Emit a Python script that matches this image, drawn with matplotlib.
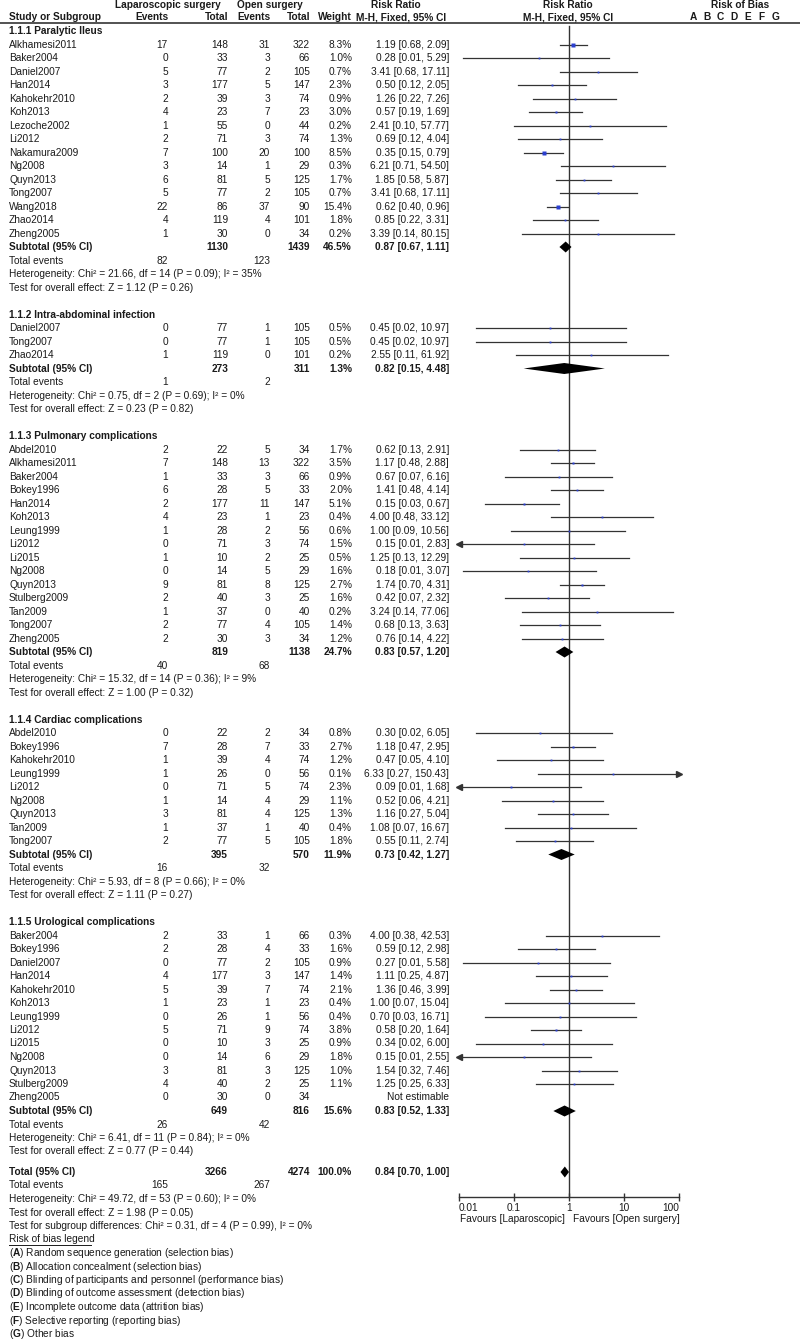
import matplotlib
matplotlib.use("Agg")

import matplotlib.pyplot as plt
from matplotlib.ticker import NullLocator

plt.rcParams['font.family'] = ['Liberation Sans', 'DejaVu Sans']
plt.rcParams['mathtext.fontset'] = 'custom'
plt.rcParams['mathtext.rm'] = 'Liberation Sans'
plt.rcParams['mathtext.bf'] = 'Liberation Sans:bold'

# -------------------------------------------------------
# DATA
# -------------------------------------------------------
groups = ["1.1.1 Paralytic Ileus", "1.1.2 Intra-abdominal infection",
          "1.1.3 Pulmonary complications", "1.1.4 Cardiac complications",
          "1.1.5 Urological complications"]
group_size = [15, 3, 15, 9, 13]

study = [
    "Alkhamesi2011", "Baker2004", "Daniel2007", "Han2014", "Kahokehr2010", "Koh2013",
    "Lezoche2002", "Li2012", "Nakamura2009", "Ng2008", "Quyn2013", "Tong2007",
    "Wang2018", "Zhao2014", "Zheng2005",
    "Daniel2007", "Tong2007", "Zhao2014",
    "Abdel2010", "Alkhamesi2011", "Baker2004", "Bokey1996", "Han2014", "Koh2013",
    "Leung1999", "Li2012", "Li2015", "Ng2008", "Quyn2013", "Stulberg2009", "Tan2009",
    "Tong2007", "Zheng2005",
    "Abdel2010", "Bokey1996", "Kahokehr2010", "Leung1999", "Li2012", "Ng2008",
    "Quyn2013", "Tan2009", "Tong2007",
    "Baker2004", "Bokey1996", "Daniel2007", "Han2014", "Kahokehr2010", "Koh2013",
    "Leung1999", "Li2012", "Li2015", "Ng2008", "Quyn2013", "Stulberg2009", "Zheng2005",
]
lap_events = [17, 0, 5, 3, 2, 4, 1, 2, 7, 3, 6, 5, 22, 4, 1,
              0, 0, 1,
              2, 7, 1, 6, 2, 4, 1, 0, 1, 0, 9, 2, 1, 2, 2,
              0, 7, 1, 1, 0, 1, 3, 1, 2,
              2, 2, 0, 4, 5, 1, 0, 5, 0, 0, 3, 4, 0]
lap_total = [148, 33, 77, 177, 39, 23, 55, 71, 100, 14, 81, 77, 86, 119, 30,
             77, 77, 119,
             22, 148, 33, 28, 177, 23, 28, 71, 10, 14, 81, 40, 37, 77, 30,
             22, 28, 39, 26, 71, 14, 81, 37, 77,
             33, 28, 77, 177, 39, 23, 26, 71, 10, 14, 81, 40, 30]
open_events = [31, 3, 2, 5, 3, 7, 0, 3, 20, 1, 5, 2, 37, 4, 0,
               1, 1, 0,
               5, 13, 3, 5, 11, 1, 2, 3, 2, 5, 8, 3, 0, 4, 3,
               2, 7, 4, 0, 5, 4, 4, 1, 5,
               1, 4, 2, 3, 7, 1, 1, 9, 3, 6, 3, 2, 0]
open_total = [322, 66, 105, 147, 74, 23, 44, 74, 100, 29, 125, 105, 90, 101, 34,
              105, 105, 101,
              34, 322, 66, 33, 147, 23, 56, 74, 25, 29, 125, 25, 40, 105, 34,
              34, 33, 74, 56, 74, 29, 125, 40, 105,
              66, 33, 105, 147, 74, 23, 56, 74, 25, 29, 125, 25, 34]
weight = [8.3, 1.0, 0.7, 2.3, 0.9, 3.0, 0.2, 1.3, 8.5, 0.3, 1.7, 0.7, 15.4, 1.8, 0.2,
          0.5, 0.5, 0.2,
          1.7, 3.5, 0.9, 2.0, 5.1, 0.4, 0.6, 1.5, 0.5, 1.6, 2.7, 1.6, 0.2, 1.4, 1.2,
          0.8, 2.7, 1.2, 0.1, 2.3, 1.1, 1.3, 0.4, 1.8,
          0.3, 1.6, 0.9, 1.4, 2.1, 0.4, 0.4, 3.8, 0.9, 1.8, 1.0, 1.1, None]
rr = [1.19, 0.28, 3.41, 0.50, 1.26, 0.57, 2.41, 0.69, 0.35, 6.21, 1.85, 3.41, 0.62, 0.85, 3.39,
      0.45, 0.45, 2.55,
      0.62, 1.17, 0.67, 1.41, 0.15, 4.00, 1.00, 0.15, 1.25, 0.18, 1.74, 0.42, 3.24, 0.68, 0.76,
      0.30, 1.18, 0.47, 6.33, 0.09, 0.52, 1.16, 1.08, 0.55,
      4.00, 0.59, 0.27, 1.11, 1.36, 1.00, 0.70, 0.58, 0.34, 0.15, 1.54, 1.25, None]
ci_low = [0.68, 0.012, 0.68, 0.12, 0.22, 0.19, 0.10, 0.12, 0.15, 0.71, 0.58, 0.68, 0.40, 0.22, 0.14,
          0.02, 0.02, 0.11,
          0.13, 0.48, 0.07, 0.48, 0.03, 0.48, 0.09, 0.008, 0.13, 0.012, 0.70, 0.07, 0.14, 0.13, 0.14,
          0.02, 0.47, 0.05, 0.27, 0.008, 0.06, 0.27, 0.07, 0.11,
          0.38, 0.12, 0.012, 0.25, 0.46, 0.07, 0.03, 0.20, 0.02, 0.008, 0.32, 0.25, None]
ci_high = [2.09, 5.29, 17.11, 2.05, 7.26, 1.69, 57.77, 4.04, 0.79, 54.50, 5.87, 17.11, 0.96, 3.31, 80.15,
           10.97, 10.97, 61.92,
           2.91, 2.88, 6.16, 4.14, 0.67, 33.12, 10.56, 2.83, 12.29, 3.07, 4.31, 2.32, 77.06, 3.63, 4.22,
           6.05, 2.95, 4.10, 150.43, 1.68, 4.21, 5.04, 16.67, 2.74,
           42.53, 2.98, 5.58, 4.87, 3.99, 15.04, 16.71, 1.64, 6.00, 2.55, 7.46, 6.33, None]

sub_lap_total = [1130, 273, 819, 395, 649]
sub_open_total = [1439, 311, 1138, 570, 816]
sub_weight = [46.5, 1.3, 24.7, 11.9, 15.6]
sub_rr = [0.87, 0.82, 0.83, 0.73, 0.83]
sub_low = [0.67, 0.15, 0.57, 0.42, 0.52]
sub_high = [1.11, 4.48, 1.20, 1.27, 1.33]
sub_lap_events = [82, 1, 40, 16, 26]
sub_open_events = [123, 2, 68, 32, 42]
sub_het = ["Chi² = 21.66, df = 14 (P = 0.09); I² = 35%",
           "Chi² = 0.75, df = 2 (P = 0.69); I² = 0%",
           "Chi² = 15.32, df = 14 (P = 0.36); I² = 9%",
           "Chi² = 5.93, df = 8 (P = 0.66); I² = 0%",
           "Chi² = 6.41, df = 11 (P = 0.84); I² = 0%"]
sub_z = ["Z = 1.12 (P = 0.26)", "Z = 0.23 (P = 0.82)", "Z = 1.00 (P = 0.32)",
         "Z = 1.11 (P = 0.27)", "Z = 0.77 (P = 0.44)"]

tot_lap_total, tot_open_total, tot_weight = 3266, 4274, 100.0
tot_rr, tot_low, tot_high = 0.84, 0.70, 1.00
tot_lap_events, tot_open_events = 165, 267
tot_het = "Chi² = 49.72, df = 53 (P = 0.60); I² = 0%"
tot_z = "Z = 1.98 (P = 0.05)"
tot_subgroup = "Chi² = 0.31, df = 4 (P = 0.99), I² = 0%"

bias_legend = ["Random sequence generation (selection bias)",
               "Allocation concealment (selection bias)",
               "Blinding of participants and personnel (performance bias)",
               "Blinding of outcome assessment (detection bias)",
               "Incomplete outcome data (attrition bias)",
               "Selective reporting (reporting bias)",
               "Other bias"]
bias_letters = ["A", "B", "C", "D", "E", "F", "G"]
axis_ticks = [0.01, 0.1, 1, 10, 100]

# -------------------------------------------------------
# LAYOUT (pixel coordinates of an 800 x 1341 image)
# -------------------------------------------------------
W, H = 800, 1341
FS = 7.25
TXT = "#1a1a1a"
LINE = "#333333"
BLUE = "#2b3fcf"
ROW = 13.5
X_STUDY, X_E1, X_N1, X_E2, X_N2, X_W, X_CI = 9, 168, 228, 270, 310, 352, 449
AX_L, AX_R, AX_BOTTOM = 459, 679, 1197

fig = plt.figure(figsize=(W / 100, H / 100), dpi=100)
main = fig.add_axes([0, 0, 1, 1])
main.set_xlim(0, W)
main.set_ylim(H, 0)
main.axis("off")

fax = fig.add_axes([AX_L / W, 1 - AX_BOTTOM / H, (AX_R - AX_L) / W, AX_BOTTOM / H])
fax.set_xscale("log")
fax.set_xlim(0.01, 100)
fax.set_ylim(AX_BOTTOM, 0)
fax.patch.set_alpha(0)
for s in ["left", "right", "top"]:
    fax.spines[s].set_visible(False)
fax.spines["bottom"].set_color(LINE)
fax.spines["bottom"].set_linewidth(1)
fax.set_yticks([])
fax.set_xticks(axis_ticks)
labs = fax.set_xticklabels(["0.01", "0.1", "1", "10", "100"])
labs[0].set_ha("left")
labs[-1].set_ha("right")
fax.xaxis.set_minor_locator(NullLocator())
fax.tick_params(axis="x", direction="inout", length=6, width=1, colors=LINE,
                labelsize=FS, labelcolor=TXT, pad=1)


def txt(x, y, s, ha="left", bold=False):
    main.text(x, y, s, ha=ha, va="center", fontsize=FS, color=TXT,
              fontweight="bold" if bold else "normal")


def fmt_ci(r, lo, hi):
    return "%.2f [%.2f, %.2f]" % (r, lo, hi)


def diamond(r, lo, hi, y, h=5.5):
    fax.fill([lo, r, hi, r], [y, y - h, y, y + h], color="black", lw=0, zorder=4)


# header
txt(168, 5, "Laparoscopic surgery", ha="center", bold=True)
txt(270, 5, "Open surgery", ha="center", bold=True)
txt(396, 5, "Risk Ratio", ha="center", bold=True)
txt(568, 5, "Risk Ratio", ha="center", bold=True)
txt(740, 5, "Risk of Bias", ha="center", bold=True)
txt(X_STUDY, 17, "Study or Subgroup", bold=True)
txt(X_E1, 17, "Events", ha="right", bold=True)
txt(X_N1, 17, "Total", ha="right", bold=True)
txt(X_E2, 17, "Events", ha="right", bold=True)
txt(X_N2, 17, "Total", ha="right", bold=True)
txt(X_W, 17, "Weight", ha="right", bold=True)
txt(446, 17, "M-H, Fixed, 95% CI", ha="right", bold=True)
txt(568, 17, "M-H, Fixed, 95% CI", ha="center", bold=True)
for i, letter in enumerate(bias_letters):
    txt(693 + i * 13.7, 17, letter, ha="center", bold=True)
main.plot([0, W], [22.5, 22.5], color="#444444", lw=1.3)

# study rows
y = 31
k = 0
for g, name in enumerate(groups):
    txt(X_STUDY, y, name, bold=True)
    y += ROW
    for _ in range(group_size[g]):
        txt(X_STUDY, y, study[k])
        txt(X_E1, y, str(lap_events[k]), ha="right")
        txt(X_N1, y, str(lap_total[k]), ha="right")
        txt(X_E2, y, str(open_events[k]), ha="right")
        txt(X_N2, y, str(open_total[k]), ha="right")
        if rr[k] is None:
            txt(X_CI, y, "Not estimable", ha="right")
        else:
            txt(X_W, y, "%.1f%%" % weight[k], ha="right")
            txt(X_CI, y, fmt_ci(rr[k], ci_low[k], ci_high[k]), ha="right")
            lo = max(ci_low[k], 0.01)
            hi = min(ci_high[k], 100)
            fax.plot([lo, hi], [y, y], color=LINE, lw=0.9, zorder=2)
            if ci_low[k] < 0.01:
                fax.plot(0.01, y, marker="<", ms=4, color=LINE, clip_on=False, zorder=2)
            if ci_high[k] > 100:
                fax.plot(100, y, marker=">", ms=4, color=LINE, clip_on=False, zorder=2)
            fax.plot(rr[k], y, marker="s", ms=max(1.3, 0.9 * weight[k] ** 0.5),
                     color=BLUE, mec="none", zorder=3)
        k += 1
        y += ROW
    txt(X_STUDY, y, "Subtotal (95% CI)", bold=True)
    txt(X_N1, y, str(sub_lap_total[g]), ha="right", bold=True)
    txt(X_N2, y, str(sub_open_total[g]), ha="right", bold=True)
    txt(X_W, y, "%.1f%%" % sub_weight[g], ha="right", bold=True)
    txt(X_CI, y, fmt_ci(sub_rr[g], sub_low[g], sub_high[g]), ha="right", bold=True)
    diamond(sub_rr[g], sub_low[g], sub_high[g], y)
    y += ROW
    txt(X_STUDY, y, "Total events")
    txt(X_E1, y, str(sub_lap_events[g]), ha="right")
    txt(X_E2, y, str(sub_open_events[g]), ha="right")
    y += ROW
    txt(X_STUDY, y, "Heterogeneity: " + sub_het[g])
    y += ROW
    txt(X_STUDY, y, "Test for overall effect: " + sub_z[g])
    y += 2 * ROW

# overall total
y = y - 2 * ROW + 20.5
txt(X_STUDY, y, "Total (95% CI)", bold=True)
txt(X_N1, y, str(tot_lap_total), ha="right", bold=True)
txt(X_N2, y, str(tot_open_total), ha="right", bold=True)
txt(X_W, y, "%.1f%%" % tot_weight, ha="right", bold=True)
txt(X_CI, y, fmt_ci(tot_rr, tot_low, tot_high), ha="right", bold=True)
diamond(tot_rr, tot_low, tot_high, y)
y += ROW
txt(X_STUDY, y, "Total events")
txt(X_E1, y, str(tot_lap_events), ha="right")
txt(X_E2, y, str(tot_open_events), ha="right")
y += ROW
txt(X_STUDY, y, "Heterogeneity: " + tot_het)
y += ROW
txt(X_STUDY, y, "Test for overall effect: " + tot_z)
y += ROW
txt(X_STUDY, y, "Test for subgroup differences: " + tot_subgroup)
y += ROW
txt(X_STUDY, y, "Risk of bias legend")
main.plot([X_STUDY, 91], [y + 5.5, y + 5.5], color=TXT, lw=0.7)
for letter, desc in zip(bias_letters, bias_legend):
    y += ROW
    txt(X_STUDY, y, r"($\bf{%s}$) %s" % (letter, desc))

# null line and favours labels
fax.plot([1, 1], [26, AX_BOTTOM], color=LINE, lw=1, zorder=1)
fax.text(0.85, 1219, "Favours [Laparoscopic]", ha="right", va="center", fontsize=FS,
         color=TXT, clip_on=False)
fax.text(1.2, 1219, "Favours [Open surgery]", ha="left", va="center", fontsize=FS,
         color=TXT, clip_on=False)

fig.savefig("out.png", dpi=100)
